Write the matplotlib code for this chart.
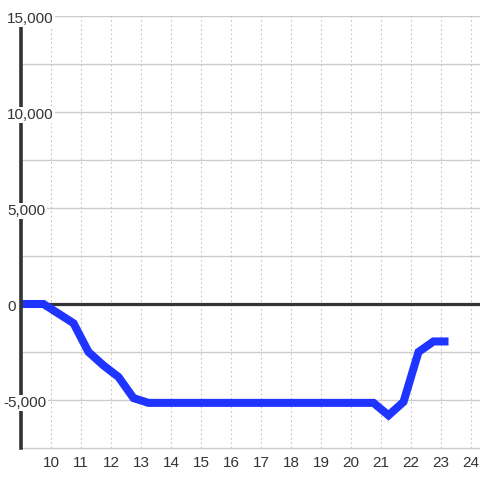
import matplotlib
matplotlib.use("Agg")
import matplotlib.pyplot as plt
import matplotlib.transforms as mtransforms

plt.rcParams['font.family'] = ['Liberation Sans', 'DejaVu Sans']

# data
hours = [9.0, 9.75, 10.75, 11.25, 11.75, 12.25, 12.75, 13.25,
         20.75, 21.25, 21.75, 22.25, 22.75, 23.25]
values = [0, 0, -1000, -2500, -3200, -3800, -4900, -5150,
          -5150, -5800, -5100, -2500, -1950, -1950]
x_ticks = list(range(10, 25))
y_ticks = [-5000, 0, 5000, 10000, 15000]
y_grid = [-5000, -2500, 0, 2500, 5000, 7500, 10000, 12500, 15000]

fig = plt.figure(figsize=(4.8, 4.8), dpi=100, facecolor='white')
ax = fig.add_axes([21 / 480, 1 - 448 / 480, 1 - 21 / 480, (448 - 16) / 480])
ax.set_facecolor('white')

ax.set_xlim(9.0, 24.3)
ax.set_ylim(-7500, 15000)

# grid
for g in y_grid:
    ax.axhline(g, color='#cccccc', lw=1, zorder=1)
for t in range(9, 25):
    ax.axvline(t, color='#c4c4c4', lw=0.8, ls=(0, (1.5, 2.5)), zorder=1)

# zero line
ax.axhline(0, color='#333333', lw=2.3, zorder=2)

ax.plot(hours, values, color='#1f35ff', lw=5.8, solid_joinstyle='miter',
        solid_capstyle='butt', zorder=3)

# spines
for s in ['top', 'right']:
    ax.spines[s].set_visible(False)
ax.spines['bottom'].set_color('#cccccc')
ax.spines['bottom'].set_linewidth(1)
ax.spines['left'].set_color('#333333')
ax.spines['left'].set_linewidth(2.6)
ax.spines['left'].set_bounds(-7500, 14600)
ax.spines['left'].set_zorder(4)

ax.set_xticks(x_ticks)
ax.set_xticklabels([str(t) for t in x_ticks])
ax.tick_params(axis='x', length=0, pad=6, labelsize=11, labelcolor='#333333')
ax.set_yticks([])

# y labels sit over the spine with a white box
trans = mtransforms.blended_transform_factory(fig.transFigure, ax.transData)
for v in y_ticks:
    left = 3 if v < 0 else 7
    ax.text(left / 480, v - 150, f"{v:,}", transform=trans, ha='left', va='center',
            fontsize=11, color='#333333', zorder=5,
            bbox=dict(facecolor='white', edgecolor='none', pad=1.0))

fig.savefig('out.png', dpi=100, facecolor='white')
